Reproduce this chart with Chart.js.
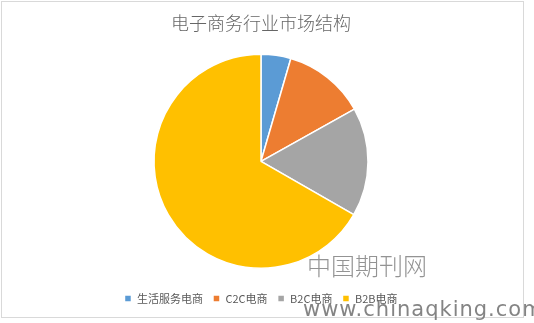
<!DOCTYPE html>
<html lang="zh">
<head>
    <meta charset="UTF-8" />
    <title>电子商务行业市场结构</title>
    <style>
        html, body {
            margin: 0;
            padding: 0;
            background: #fff;
            overflow: hidden;
        }
        .wrap {
            position: relative;
            width: 534px;
            height: 323px;
        }
        .frame {
            position: absolute;
            left: 1px;
            top: 1px;
            width: 521px;
            height: 315px;
            border: 1px solid #d9d9d9;
            pointer-events: none;
        }
        .mark-cn {
            position: absolute;
            left: 307px;
            top: 247px;
            font-family: 'Noto Sans CJK SC', sans-serif;
            font-weight: 300;
            font-size: 24px;
            color: rgba(120, 120, 120, 0.8);
        }
        .mark-url {
            position: absolute;
            left: 303px;
            top: 297px;
            font-family: 'DejaVu Sans', sans-serif;
            font-size: 21px;
            color: rgba(110, 110, 110, 0.85);
            letter-spacing: 1px;
            white-space: nowrap;
        }
    </style>
    <script src="https://cdn.jsdelivr.net/npm/chart.js"></script>
</head>
<body>
    <div class="wrap">
        <canvas id="pie" width="534" height="323"></canvas>
        <div class="frame"></div>
        <div class="mark-cn">中国期刊网</div>
        <div class="mark-url">www.chinaqking.com</div>
    </div>
    <script>
        const titleText = '电子商务行业市场结构';
        const categories = ['生活服务电商', 'C2C电商', 'B2C电商', 'B2B电商'];
        const shares = [4.5, 12.4, 16.4, 66.7];
        const sliceColors = ['#5B9BD5', '#ED7D31', '#A5A5A5', '#FFC000'];

        const ctx = document.getElementById('pie').getContext('2d');
        new Chart(ctx, {
            type: 'pie',
            data: {
                labels: categories,
                datasets: [{
                    data: shares,
                    backgroundColor: sliceColors,
                    borderColor: '#ffffff',
                    borderWidth: 1.5,
                    radius: 107
                }]
            },
            options: {
                responsive: false,
                animation: false,
                layout: {
                    padding: { left: 0, right: 12, top: 0, bottom: 9 }
                },
                plugins: {
                    title: {
                        display: true,
                        text: titleText,
                        color: '#666666',
                        font: { family: "'Noto Sans CJK SC', sans-serif", size: 18, weight: 300 },
                        padding: { top: 12, bottom: 6 }
                    },
                    legend: {
                        position: 'bottom',
                        labels: {
                            color: '#595959',
                            font: { family: "'Noto Sans CJK SC', sans-serif", size: 11 },
                            boxWidth: 7,
                            boxHeight: 7,
                            padding: 10
                        }
                    },
                    tooltip: { enabled: false }
                }
            }
        });
    </script>
</body>
</html>
